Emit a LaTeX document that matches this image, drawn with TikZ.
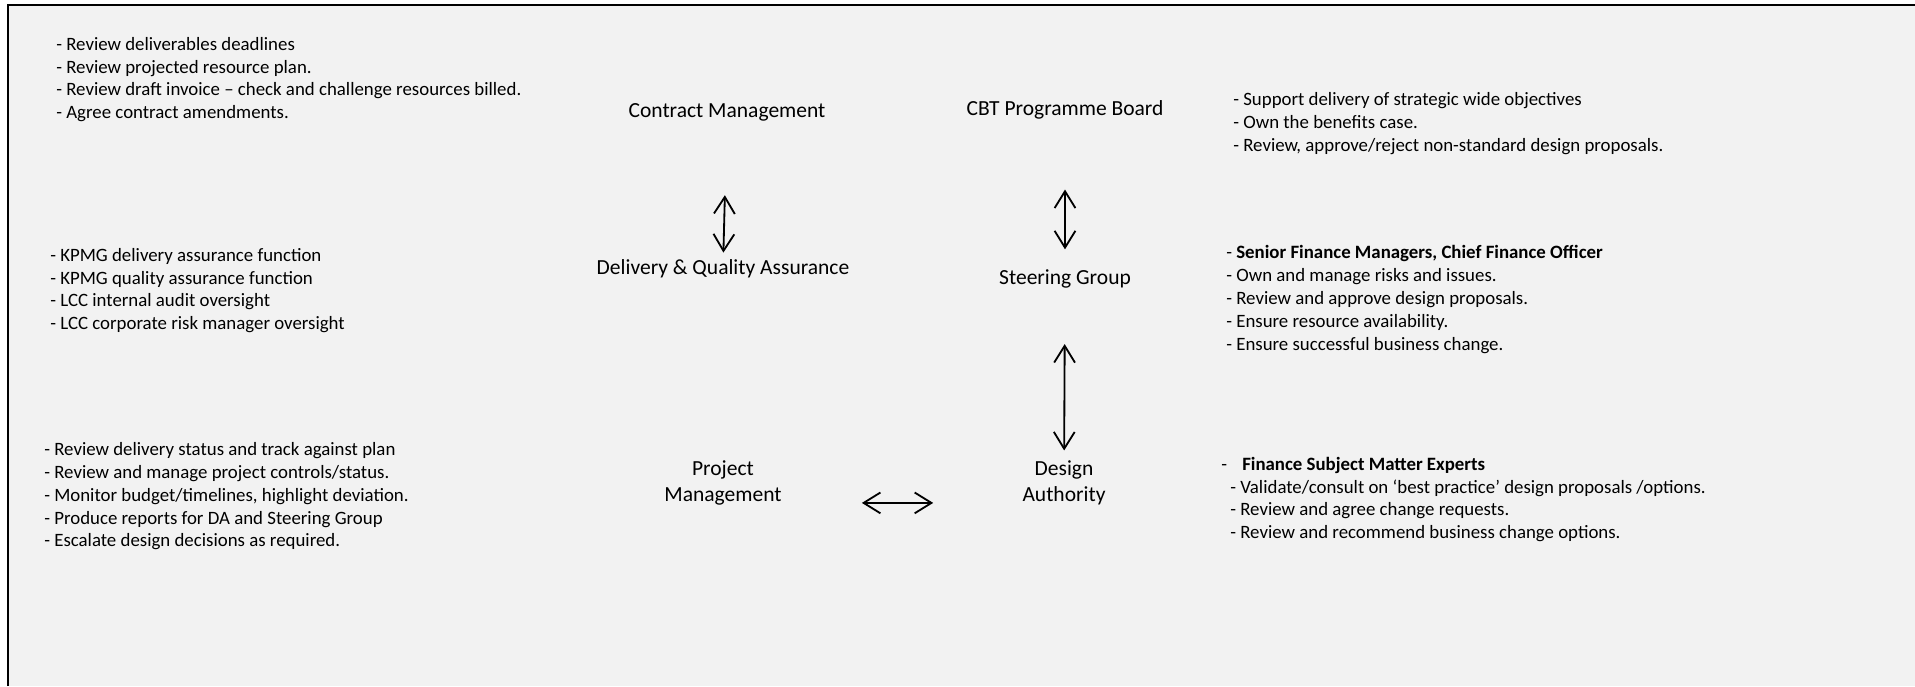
\documentclass[tikz,border=0pt]{standalone}
\usepackage{fontspec}
\setmainfont{Carlito}
\usetikzlibrary{arrows.meta}
\definecolor{panel}{HTML}{F2F2F2}
\tikzset{
  box/.style={inner sep=0pt, align=center, font=\fontsize{15.3}{18.5}\selectfont},
  notes/.style={inner sep=0pt, anchor=west, align=left, font=\fontsize{13.4}{16.2}\selectfont},
  link/.style={<->, line width=1.3pt},
}

\begin{document}
\begin{tikzpicture}[x=0.025cm, y=-0.025cm, >={Straight Barb[length=0.42cm,width=0.52cm]}]
\useasboundingbox (0,0) rectangle (1915,686);
\fill[white] (0,0) rectangle (1915,686);
\fill[panel] (8,5) rectangle (1915,686);
\draw[line width=1.3pt] (8,686) -- (8,5) -- (1915,5);

% boards
\node[box] (CM) at (727,112.5) {Contract Management};
\node[box] (PB) at (1065,109.5) {CBT Programme Board};
\node[box] (DQ) at (723,268.5) {Delivery \& Quality Assurance};
\node[box] (SG) at (1065,278.5) {Steering Group};
\node[box] (PM) at (723,482.5) {Project\\Management};
\node[box] (DA) at (1064,482.5) {Design\\Authority};

% duties
\node[notes] (T1) at (56,79.5) {- Review deliverables deadlines\\
  - Review projected resource plan.\\
  - Review draft invoice -- check and challenge resources billed.\\
  - Agree contract amendments.};
\node[notes] (T2) at (1233,123.5) {- Support delivery of strategic wide objectives\\
  - Own the benefits case.\\
  - Review, approve/reject non-standard design proposals.};
\node[notes] (T3) at (50,290.5) {- KPMG delivery assurance function\\
  - KPMG quality assurance function\\
  - LCC internal audit oversight\\
  - LCC corporate risk manager oversight};
\node[notes] (T4) at (1226,299.5) {- \textbf{Senior Finance Managers, Chief Finance Officer}\\
  - Own and manage risks and issues.\\
  - Review and approve design proposals.\\
  - Ensure resource availability.\\
  - Ensure successful business change.};
\node[notes] (T5) at (44,496.5) {- Review delivery status and track against plan\\
  - Review and manage project controls/status.\\
  - Monitor budget/timelines, highlight deviation.\\
  - Produce reports for DA and Steering Group\\
  - Escalate design decisions as required.};
\node[notes] (T6) at (1221,499.5) {-\hspace{0.38cm}\textbf{Finance Subject Matter Experts}\\
  \hspace{0.225cm}- Validate/consult on `best practice' design proposals /options.\\
  \hspace{0.225cm}- Review and agree change requests.\\
  \hspace{0.225cm}- Review and recommend business change options.};

\draw[link, shorten <=1.84cm, shorten >=0.16cm] (CM) -- (DQ);
\draw[link, shorten <=1.76cm, shorten >=0.49cm] (PB) -- (SG);
\draw[link, shorten <=1.4cm, shorten >=0.24cm] (SG) -- (DA);
\draw[link, shorten <=2cm, shorten >=2.225cm] ([yshift=-0.51cm]PM.east) -- ([yshift=-0.51cm]DA.west);
\end{tikzpicture}
\end{document}
